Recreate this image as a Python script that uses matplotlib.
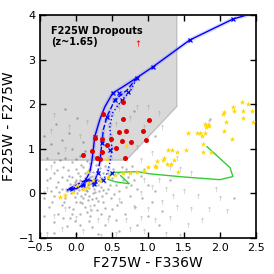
import numpy as np
import matplotlib
matplotlib.use("Agg")
import matplotlib.pyplot as plt

# grey selection window (F225W dropout criteria)
box_x = [-0.5, 0.7, 1.4, 1.4, -0.5]
box_y = [0.75, 0.75, 1.95, 4.0, 4.0]

# background field galaxies (detections)
dots = [
    (-0.12, 0.05), (-0.05, 0.12), (0.02, 0.0), (0.08, 0.18), (0.15, 0.05), (0.2, 0.22), (0.25, 0.1), (0.3, 0.3),
    (0.35, 0.15), (0.1, -0.1), (0.0, 0.3), (-0.08, 0.22), (0.05, 0.4), (0.12, 0.35), (0.18, -0.05), (0.22, 0.4),
    (0.28, -0.1), (0.32, 0.05), (0.4, 0.25), (0.45, 0.1), (-0.2, 0.1), (-0.15, -0.1), (-0.25, 0.25), (-0.3, -0.05),
    (-0.1, 0.4), (0.0, 0.55), (0.1, 0.6), (0.2, 0.55), (0.3, 0.5), (0.38, 0.45), (0.5, 0.35), (0.55, 0.2),
    (0.6, 0.05), (0.48, -0.1), (0.38, -0.2), (0.25, -0.25), (0.12, -0.3), (0.0, -0.2), (-0.1, -0.3), (-0.2, -0.25),
    (-0.35, 0.05), (-0.4, 0.3), (-0.3, 0.45), (-0.18, 0.6), (-0.05, 0.7), (0.15, 0.72), (0.05, 0.85), (-0.15, 0.8),
    (-0.3, 0.7), (-0.42, 0.55), (0.65, 0.3), (0.7, 0.15), (0.75, -0.05), (0.62, -0.2), (0.5, -0.35), (0.35, -0.45),
    (0.2, -0.5), (0.05, -0.45), (-0.08, -0.55), (-0.25, -0.45), (-0.38, -0.3), (-0.45, -0.1), (0.08, 0.1), (0.13, 0.25),
    (0.02, 0.15), (-0.02, -0.08), (0.18, 0.12), (0.26, 0.22), (0.33, 0.38), (0.42, 0.0), (-0.07, 0.0), (0.06, -0.18),
    (0.16, -0.15), (0.24, 0.0), (0.36, -0.05), (0.44, 0.45), (0.52, 0.55), (0.28, 0.65), (0.4, 0.62), (0.58, 0.45),
    (0.8, 0.3), (0.85, 0.1), (0.9, 0.4), (0.7, 0.55), (0.78, 0.62), (0.92, -0.1), (0.82, -0.3), (0.68, -0.45),
    (0.55, -0.6), (0.4, -0.7), (0.22, -0.75), (0.05, -0.7), (-0.12, -0.72), (-0.3, -0.65), (-0.45, -0.5), (-0.4, 0.8),
    (-0.25, 0.9), (-0.05, 1.0), (0.12, 0.95), (-0.35, 1.1), (-0.2, 1.2), (-0.45, 1.3), (0.1, 1.15), (-0.1, 1.35),
    (0.0, -0.9), (0.3, -0.9), (-0.3, -0.88), (0.6, -0.85), (1.0, 0.2), (1.05, -0.2), (1.1, 0.05), (1.2, -0.4),
    (1.3, 0.3), (0.95, 0.55), (1.0, -0.5), (1.15, -0.7), (0.85, -0.7), (0.1, 0.2), (0.14, 0.08), (0.2, 0.3),
    (-0.02, 0.25), (0.06, 0.3), (0.3, 0.2), (0.22, -0.12), (0.12, 0.45), (-0.12, 0.3), (0.35, 0.3), (2.2, -0.1),
    (1.86, 1.67), (-0.28, 1.55), (0.02, 1.7), (-0.15, 1.9), (0.45, 1.7), (0.8, 1.85), (1.1, 1.3),
    (0.04, 0.07), (0.11, 0.14), (0.17, 0.19), (0.23, 0.16), (0.27, 0.04), (-0.03, 0.19), (-0.09, 0.09), (0.07, -0.05),
    (0.13, -0.02), (0.19, 0.36), (0.09, 0.28), (0.03, 0.46), (-0.06, 0.36), (0.16, 0.5), (0.26, 0.33), (0.31, -0.16),
    (0.21, -0.36), (0.09, -0.22), (-0.04, -0.35), (-0.16, -0.18), (-0.24, 0.03), (-0.19, 0.38), (-0.11, 0.52), (0.07, 0.65),
    (0.24, 0.48), (0.37, 0.08), (0.41, -0.32), (0.29, -0.38), (0.15, -0.42), (-0.01, -0.62), (-0.18, -0.55), (-0.33, -0.2),
    (-0.36, 0.35), (-0.26, 0.52), (-0.22, 0.75), (0.0, 0.78), (0.2, 0.68), (0.47, 0.2), (0.53, -0.02), (0.57, -0.25),
    (0.64, 0.6), (0.72, 0.38), (0.77, 0.2), (0.46, -0.5), (0.18, -0.62), (-0.06, -0.45), (-0.28, 0.15), (0.34, 0.58),
]
dot_x = [p[0] for p in dots]
dot_y = [p[1] for p in dots]

# background field galaxies (upper limits)
lims = [
    (-0.4, -0.9), (-0.2, -0.8), (0.1, -0.85), (0.35, -0.95), (0.55, -0.9), (0.75, -0.8), (0.95, -0.85), (1.25, -0.9),
    (1.45, -0.95), (0.45, -0.6), (0.7, -0.6), (0.9, -0.55), (1.1, -0.6), (1.3, -0.55), (1.55, -0.7), (1.75, -0.6),
    (0.8, -0.3), (1.0, -0.35), (1.2, -0.2), (1.4, -0.3), (1.6, -0.35), (1.85, -0.35), (2.1, -0.4), (0.6, -0.15),
    (0.9, 0.0), (1.05, 0.15), (1.25, 0.1), (1.5, 0.05), (1.7, -0.05), (1.95, 0.1), (1.35, -0.05), (1.15, 0.3),
    (0.95, 0.3), (0.3, -0.6), (0.0, -0.55), (-0.3, -0.5), (-0.4, 0.1), (-0.35, 0.6), (-0.15, 1.0), (-0.35, 1.4),
    (-0.1, 1.5), (-0.3, 1.75), (0.05, 1.3), (0.15, 1.6), (0.55, 1.55), (0.6, 1.9), (0.75, 1.7), (0.85, 1.95),
    (1.0, 1.95), (1.15, 1.8), (0.95, 1.5), (1.2, 1.5), (0.5, 1.0), (0.85, 1.05), (1.05, 0.9), (1.85, 1.6),
    (1.4, 0.8), (0.9, 0.75), (0.5, 2.1), (1.45, 0.55), (1.6, 0.45), (1.3, 0.6), (2.0, -0.1), (0.2, -0.3),
    (-0.15, -0.35), (0.25, 0.8), (-0.45, 0.0),
]
lim_x = [p[0] for p in lims]
lim_y = [p[1] for p in lims]

# selected dropouts
red_x = [0.37, 0.65, 0.65, 1.01, 0.93, 0.70, 0.60, 0.97, 0.76, 0.64, 0.26, 0.36, 0.49, 0.43, 0.22, 0.36, 0.56, 0.29, 0.33, 0.10, 0.68]
red_y = [1.78, 2.05, 1.67, 1.65, 1.41, 1.41, 1.38, 1.20, 1.16, 1.18, 1.25, 1.22, 1.22, 1.09, 0.96, 0.94, 1.02, 0.80, 0.78, 0.87, 0.80]
red_lim_x = [0.86]
red_lim_y = [3.37]

# stars
star_x = [2.31, 2.39, 2.18, 2.19, 2.05, 2.04, 2.32, 2.44, 2.32, 2.08, 2.46, 1.83, 1.81, 1.79, 1.85, 2.05,
          1.56, 1.68, 1.72, 1.79, 1.75, 2.17, 1.76, 1.76, 1.87, 1.28, 1.33, 1.40, 1.53, 1.22, 1.21, 1.36,
          1.12, 1.26, 1.32, 1.11, 1.42, 1.00, 0.94, 1.10,
          -0.22, -0.15, -0.04, 0.10, 0.15, 0.01, 0.17, 0.24, 0.33, 0.17, 0.44, 0.54, 0.65, 0.75, 0.85, 0.43, 0.69]
star_y = [2.05, 2.00, 1.94, 1.85, 1.83, 1.79, 1.85, 1.85, 1.70, 1.61, 1.61, 1.54, 1.50, 1.56, 1.52, 1.40,
          1.36, 1.36, 1.36, 1.36, 1.29, 1.22, 1.11, 0.94, 0.94, 0.98, 0.98, 0.94, 0.98, 0.80, 0.76, 0.76,
          0.73, 0.67, 0.67, 0.60, 0.49, 0.60, 0.51, 0.62,
          -0.08, -0.03, 0.04, 0.09, 0.15, 0.20, 0.24, 0.31, 0.27, 0.49, 0.38, 0.42, 0.47, 0.47, 0.49, 0.78, 1.07]

# galaxy tracks
trk1_x = [-0.12, 0.01, 0.10, 0.19, 0.22, 0.24, 0.26, 0.33, 0.40, 0.51, 0.65, 0.85, 1.07, 1.58, 2.18, 2.37, 2.5]
trk1_y = [0.08, 0.11, 0.20, 0.47, 0.71, 0.98, 1.27, 1.65, 1.94, 2.25, 2.39, 2.60, 2.84, 3.44, 3.91, 4.0, 4.05]
trk1_mx = [-0.05, 0.10, 0.26, 0.51, 0.85, 1.07, 1.58, 2.18]
trk1_my = [0.10, 0.20, 1.27, 2.25, 2.60, 2.84, 3.44, 3.91]

trk2_x = [-0.10, 0.06, 0.15, 0.26, 0.30, 0.33, 0.36, 0.38, 0.43, 0.54, 0.71, 0.85]
trk2_y = [0.10, 0.24, 0.31, 0.27, 0.47, 0.69, 1.14, 1.43, 1.72, 2.10, 2.32, 2.60]
trk2_mx = [0.15, 0.26, 0.30, 0.36, 0.43, 0.54, 0.60]
trk2_my = [0.31, 0.27, 0.47, 1.14, 1.72, 2.10, 2.25]

trk3_x = [-0.08, 0.10, 0.25, 0.38, 0.44, 0.47, 0.50, 0.47, 0.51, 0.64, 0.75, 0.85]
trk3_y = [0.10, 0.18, 0.22, 0.31, 0.47, 0.69, 0.98, 1.50, 1.81, 2.10, 2.28, 2.60]
trk3_mx = [0.25, 0.38, 0.50, 0.47, 0.64, 0.72]
trk3_my = [0.22, 0.31, 0.45, 0.98, 2.10, 2.28]

green_x = [1.82, 2.14, 2.18, 2.00, 1.50, 1.03, 0.86, 0.50, 0.44, 0.55, 0.74, 0.62]
green_y = [1.05, 0.58, 0.38, 0.31, 0.37, 0.44, 0.49, 0.47, 0.32, 0.26, 0.22, 0.40]

fig = plt.figure(figsize=(2.74, 2.74), dpi=100)
ax = fig.add_axes([0.146, 0.131, 0.788, 0.814])

ax.fill(box_x, box_y, color='#d9d9d9', ec='#c0c0c0', lw=1, zorder=0)

ax.scatter(dot_x, dot_y, s=3, color='#444444', alpha=0.4, lw=0, zorder=1)
ax.scatter(lim_x, lim_y, marker=r'$\uparrow$', s=14, color='#999999', alpha=0.6, lw=0, zorder=1)

ax.plot(green_x, green_y, color='#33cc33', lw=1, zorder=2)

for tx, ty, ls in [(trk1_x, trk1_y, '-'), (trk2_x, trk2_y, '--'), (trk3_x, trk3_y, ':')]:
    ax.plot(tx, ty, color='#6f6fff', lw=3, alpha=0.25, ls=ls, zorder=2)
    ax.plot(tx, ty, color='#0000ff', lw=1, ls=ls, zorder=3)
for mx, my in [(trk1_mx, trk1_my), (trk2_mx, trk2_my), (trk3_mx, trk3_my)]:
    ax.plot(mx, my, 'x', color='#0000ff', ms=3, mew=0.9, zorder=3)

ax.scatter(star_x, star_y, marker='*', s=18, color='#ffd700', lw=0, zorder=4)
ax.scatter(red_x, red_y, s=13, color='#e00000', lw=0, zorder=5)
ax.scatter(red_lim_x, red_lim_y, marker=r'$\uparrow$', s=20, color='red', lw=0, zorder=5)

ax.text(0.05, 0.95, 'F225W Dropouts\n(z~1.65)', transform=ax.transAxes, fontsize=7,
        fontweight='bold', va='top', ha='left', linespacing=1.1)

ax.set_xlim(-0.5, 2.5)
ax.set_ylim(-1, 4)
ax.set_xticks([-0.5, 0.0, 0.5, 1.0, 1.5, 2.0, 2.5])
ax.set_yticks([-1, 0, 1, 2, 3, 4])
ax.tick_params(direction='in', top=True, right=True, labelsize=8, length=4, width=1)
for s in ax.spines.values():
    s.set_linewidth(1.2)
ax.set_xlabel('F275W - F336W', fontsize=10, labelpad=2)
ax.set_ylabel('F225W - F275W', fontsize=10, labelpad=2)

fig.savefig('out.png', dpi=100)
